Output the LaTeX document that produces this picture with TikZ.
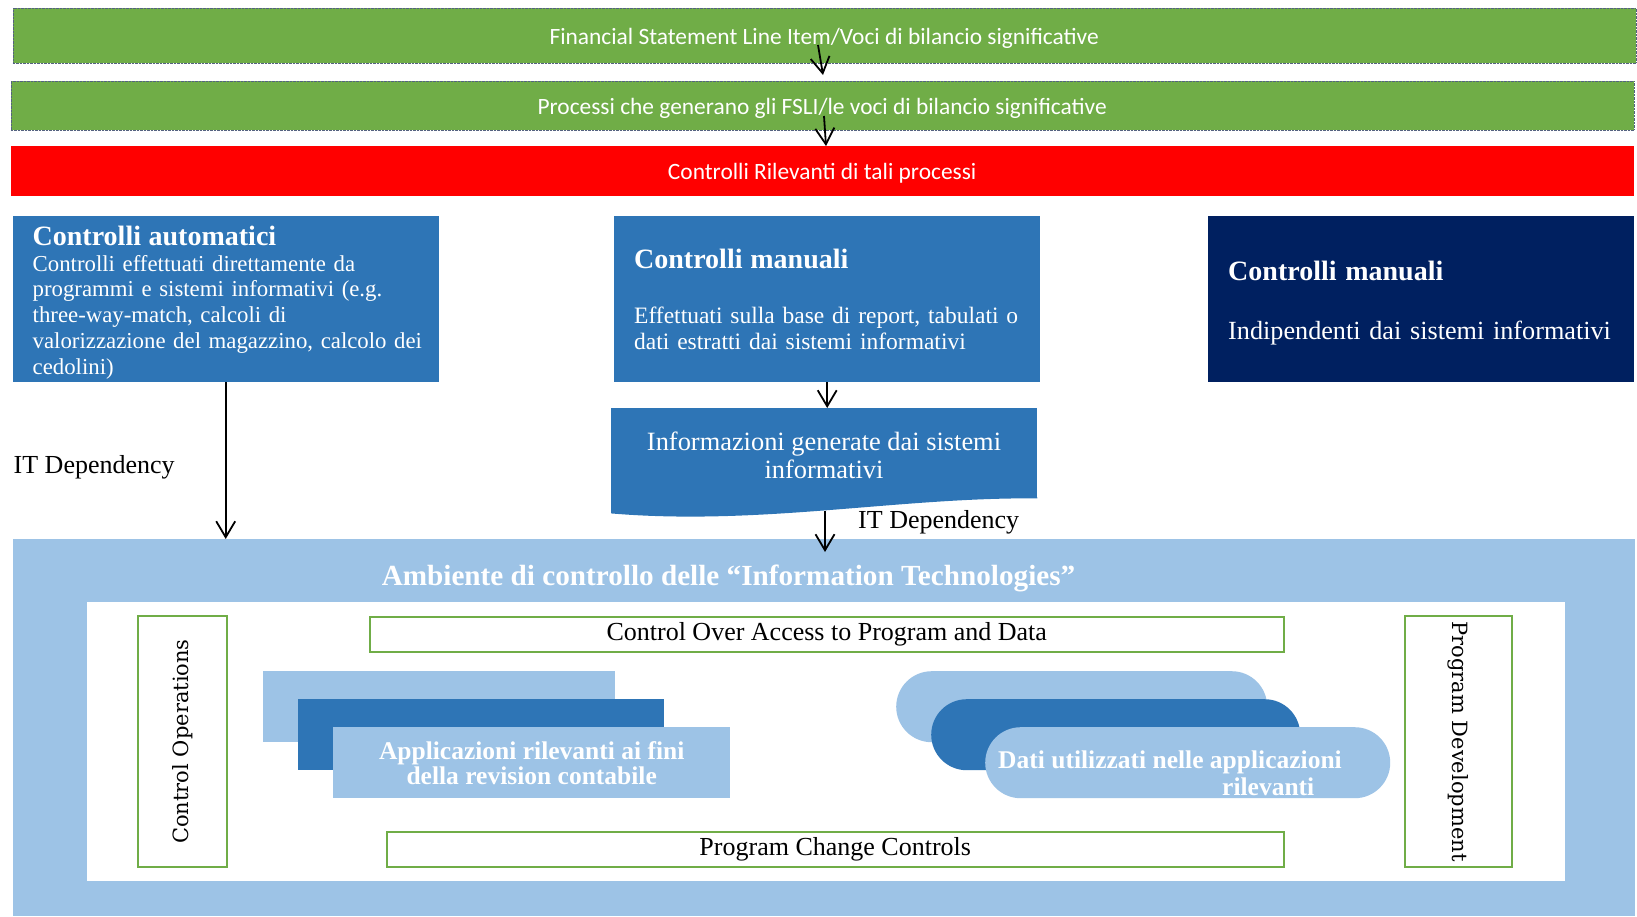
\documentclass[tikz,border=0pt]{standalone}
\usepackage{fontspec}
\setmainfont{Liberation Serif}
\newfontfamily\calfont{Carlito}
\newfontfamily\sidefont{DejaVu Serif}
\usetikzlibrary{arrows.meta,positioning}

\definecolor{fsliGreen}{RGB}{112,173,71}
\definecolor{ctrlRed}{RGB}{255,0,0}
\definecolor{midBlue}{RGB}{46,117,182}
\definecolor{navyBlue}{RGB}{0,32,96}
\definecolor{paleBlue}{RGB}{157,195,230}
\definecolor{dotGrey}{RGB}{84,98,128}

\newcommand{\hdfont}{\fontsize{28}{30}\selectfont\bfseries}
\newcommand{\barlow}[1]{\raisebox{-2.5pt}[\height][\depth]{#1}}

\begin{document}
\begin{tikzpicture}[x=1pt,y=-1pt,
	bar/.style={anchor=north west,inner sep=0pt,minimum width=1623pt,text=white,font=\calfont\fontsize{23.4}{27}\selectfont},
	ctrl/.style={anchor=north west,inner xsep=20pt,inner ysep=0pt,text width=386pt,minimum height=166pt,text=white,align=left},
	gbox/.style={draw=fsliGreen,line width=1.5pt,fill=white,inner sep=0pt,font=\fontsize{26}{28}\selectfont},
	sheet/.style={anchor=north west,inner sep=0pt,minimum height=71pt},
	pill/.style={sheet,rounded corners=35.5pt},
	arw/.style={-{Straight Barb[length=16pt,width=19pt]},line width=1.8pt}]
	\useasboundingbox (0,0) rectangle (1637,916);

	\node[bar,fill=fsliGreen,draw=dotGrey,densely dotted,minimum height=55pt] (fsli) at (12.5,8) {\barlow{Financial Statement Line Item/Voci di bilancio significative}};
	\node[bar,fill=fsliGreen,draw=dotGrey,densely dotted,minimum height=49pt] (proc) at (10.5,81) {\barlow{Processi che generano gli FSLI/le voci di bilancio significative}};
	\node[bar,fill=ctrlRed,minimum height=50pt] (rel) at (10.5,146) {\barlow{Controlli Rilevanti di tali processi}};

	\node[ctrl,fill=midBlue,font=\fontsize{22.8}{25.7}\selectfont] (auto) at (12.5,216) {{\hdfont\rule{0pt}{26pt}Controlli automatici\par}Controlli effettuati direttamente da\\ programmi e sistemi informativi (e.g.\\ three-way-match, calcoli di\\ \mbox{valorizzazione del magazzino, calcolo dei}\\ cedolini)};
	\node[ctrl,fill=midBlue,font=\fontsize{23.5}{26}\selectfont] (manB) at (614,216) {{\hdfont Controlli manuali\par}\vspace{29pt}Effettuati sulla base di report, tabulati o\\ dati estratti dai sistemi informativi};
	\node[ctrl,fill=navyBlue,font=\fontsize{26.2}{30}\selectfont] (manC) at (1208,216) {{\hdfont\rule{0pt}{27pt}Controlli manuali\par}\vspace{29pt}\mbox{Indipendenti dai sistemi informativi}};

	\node[anchor=north west,inner sep=0pt,fill=midBlue,minimum width=426pt,minimum height=90pt] (info) at (611,408) {};
	\fill[midBlue] ([yshift=1pt]info.south west) -- ([yshift=1pt]info.south east) -- (info.south east) .. controls (900,497) and (760,526) .. ([yshift=-15pt]info.south west) -- cycle;
	\node[text=white,align=center,font=\fontsize{26.4}{28}\selectfont] (infotxt) at (824,455) {Informazioni generate dai sistemi\\informativi};

	\node[anchor=north west,inner sep=0pt,fill=paleBlue,minimum width=1622pt,minimum height=377pt] (env) at (12.5,539) {};
	\node[text=white,font=\bfseries\fontsize{29.2}{30}\selectfont] (envtitle) at (728.5,578) {Ambiente di controllo delle “Information Technologies”};
	\node[anchor=north west,inner sep=0pt,fill=white,minimum width=1478pt,minimum height=279pt] (inner) at (86.7,602) {};

	\node[gbox,rotate=90,minimum width=251pt,minimum height=89pt,font=\sidefont\fontsize{21}{24}\selectfont] (ops) at (182.5,741.5) {Control Operations};
	\node[gbox,rotate=-90,minimum width=251pt,minimum height=107pt,font=\sidefont\fontsize{21}{24}\selectfont] (dev) at (1458.5,741.5) {Program Development};
	\node[gbox,anchor=north west,minimum width=914pt,minimum height=35pt] (access) at (369,616) {Control Over Access to Program and Data};
	\node[gbox,anchor=north west,minimum width=897pt,minimum height=35pt] (change) at (386,831) {Program Change Controls};

	\node[sheet,fill=paleBlue,minimum width=352.5pt] (app1) at (262.5,671) {};
	\node[sheet,fill=midBlue,minimum width=366pt] (app2) at (298,699) {};
	\node[sheet,fill=paleBlue,minimum width=397pt,text=white,align=center,font=\bfseries\fontsize{25.5}{25}\selectfont] (app3) at (333,727) {Applicazioni rilevanti ai fini\\della revision contabile};

	\node[pill,fill=paleBlue,minimum width=371pt] (dat1) at (896,671) {};
	\node[pill,fill=midBlue,minimum width=369pt] (dat2) at (931,699) {};
	\node[pill,fill=paleBlue,minimum width=405pt] (dat3) at (985,727) {};
	\node[text=white,align=left,anchor=west,inner sep=0pt,font=\bfseries\fontsize{25.5}{27}\selectfont] (dattxt) at (998,773.5) {Dati utilizzati nelle applicazioni\\\hspace*{224pt}rilevanti};

	\node[anchor=west,inner sep=0pt,font=\fontsize{26}{28}\selectfont] (depA) at (13.5,467) {IT Dependency};
	\node[anchor=west,inner sep=0pt,font=\fontsize{26}{28}\selectfont] (depB) at (858,522) {IT Dependency};

	\coordinate (fsliOut) at (818,45);
	\coordinate (procIn) at (823,75);
	\coordinate (procOut) at (824,116);
	\coordinate (relIn) at (826,146);
	\coordinate (infoOut) at (825,511);
	\coordinate (envIn) at (825,552);
	\draw[arw] (fsliOut) -- (procIn);
	\draw[arw] (procOut) -- (relIn);
	\draw[arw] (manB.south) -- (manB.south |- info.north);
	\draw[arw] (auto.south) -- (auto.south |- env.north);
	\draw[arw] (infoOut) -- (envIn);
\end{tikzpicture}
\end{document}
